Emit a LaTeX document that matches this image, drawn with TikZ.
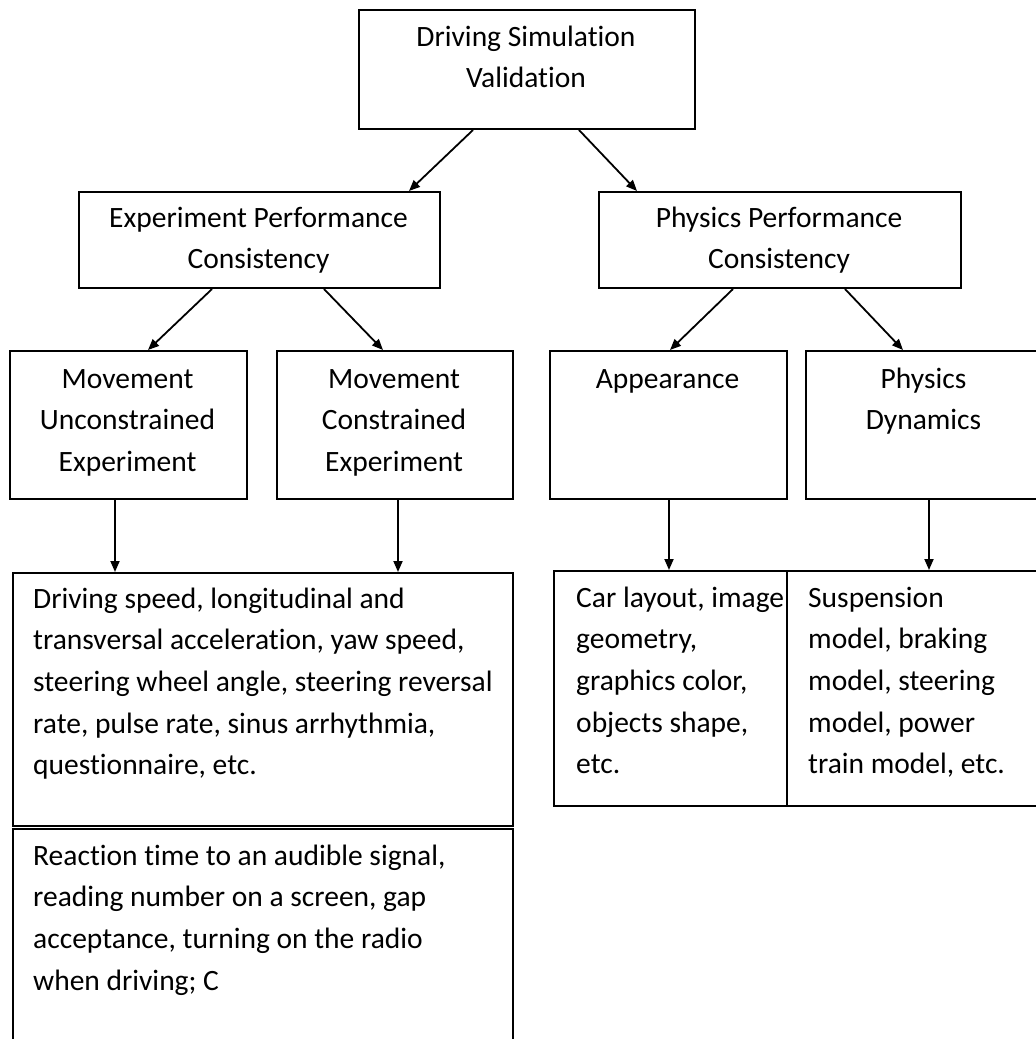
\documentclass[tikz,border=0pt]{standalone}
\usepackage{fontspec}
\setmainfont{Carlito}[RawFeature={-liga;-clig;-dlig}]
\usetikzlibrary{arrows.meta,calc}

% text blocks whose reference point is the baseline of the first line
\newcommand{\ctext}[1]{\begin{minipage}[t]{340pt}\centering #1\end{minipage}}
\newcommand{\ltext}[1]{\begin{minipage}[t]{500pt}\raggedright #1\end{minipage}}

\begin{document}
\begin{tikzpicture}[x=1pt,y=-1pt,
  box/.style={draw, line width=2pt, fill=white, inner sep=0pt, anchor=north west},
  txt/.style={inner sep=0pt, font=\fontsize{29.5}{41.7}\selectfont},
  link/.style={line width=1.8pt, -{Triangle[length=11pt,width=9pt]}}]

\path[use as bounding box] (0,0) rectangle (1036,1039);
\clip (0,0) rectangle (1036,1039);

% boxes
\node[box, minimum width=336pt, minimum height=119pt] (top) at (358,9) {};
\node[box, minimum width=361pt, minimum height=96pt] (exp) at (78,191) {};
\node[box, minimum width=362pt, minimum height=96pt] (phy) at (598,191) {};
\node[box, minimum width=237pt, minimum height=148pt] (mu) at (9,350) {};
\node[box, minimum width=236pt, minimum height=148pt] (mc) at (276,350) {};
\node[box, minimum width=237pt, minimum height=148pt] (app) at (549,350) {};
\node[box, minimum width=237pt, minimum height=148pt] (pd) at (805,350) {};
\node[box, minimum width=500pt, minimum height=253pt] (d1) at (12,572) {};
\node[box, minimum width=500pt, minimum height=230pt] (d2) at (12,828) {};
\node[box, minimum width=252pt, minimum height=235pt] (d3) at (553,570) {};
\node[box, minimum width=256pt, minimum height=235pt] (d4) at (786,570) {};

% labels
\node[txt, anchor=base] (ttop) at (526,46) {\ctext{Driving Simulation\\Validation}};
\node[txt, anchor=base] (texp) at (258.5,227) {\ctext{Experiment Performance\\Consistency}};
\node[txt, anchor=base] (tphy) at (779,227) {\ctext{Physics Performance\\Consistency}};
\node[txt, anchor=base] (tmu) at (127.5,388) {\ctext{Movement\\Unconstrained\\Experiment}};
\node[txt, anchor=base] (tmc) at (394,388) {\ctext{Movement\\Constrained\\Experiment}};
\node[txt, anchor=base] (tapp) at (667.5,388) {\ctext{Appearance}};
\node[txt, anchor=base] (tpd) at (923.5,388) {\ctext{Physics\\Dynamics}};

\node[txt, anchor=base west] (td1) at (33,608) {\ltext{Driving speed, longitudinal and\\
transversal acceleration, yaw speed,\\
steering wheel angle, steering reversal\\
rate, pulse rate, sinus arrhythmia,\\
questionnaire, etc.}};
\node[txt, anchor=base west] (td2) at (33,865) {\ltext{Reaction time to an audible signal,\\
reading number on a screen, gap\\
acceptance, turning on the radio\\
when driving; C}};
\node[txt, anchor=base west] (td3) at (576,607) {\ltext{Car layout, image\\
geometry,\\
graphics color,\\
objects shape,\\
etc.}};
\node[txt, anchor=base west] (td4) at (808,607) {\ltext{Suspension\\
model, braking\\
model, steering\\
model, power\\
train model, etc.}};

% connectors
\draw[link] ([xshift=-54pt]top.south) -- ([xshift=149.5pt]exp.north);
\draw[link] ([xshift=52pt]top.south) -- ([xshift=-143pt]phy.north);
\draw[link] ([xshift=-47.5pt]exp.south) -- ([xshift=19.5pt]mu.north);
\draw[link] ([xshift=64.5pt]exp.south) -- ([xshift=-12pt]mc.north);
\draw[link] ([xshift=-47pt]phy.south) -- ([xshift=1.5pt]app.north);
\draw[link] ([xshift=65pt]phy.south) -- ([xshift=-21.5pt]pd.north);
\draw[link] ([xshift=-13.5pt]mu.south) -- ([xshift=-13.5pt]mu.south |- d1.north);
\draw[link] ([xshift=3pt]mc.south) -- ([xshift=3pt]mc.south |- d1.north);
\draw[link] ([xshift=0.5pt]app.south) -- ([xshift=0.5pt]app.south |- d3.north);
\draw[link] ([xshift=4.5pt]pd.south) -- ([xshift=4.5pt]pd.south |- d4.north);
\end{tikzpicture}
\end{document}
